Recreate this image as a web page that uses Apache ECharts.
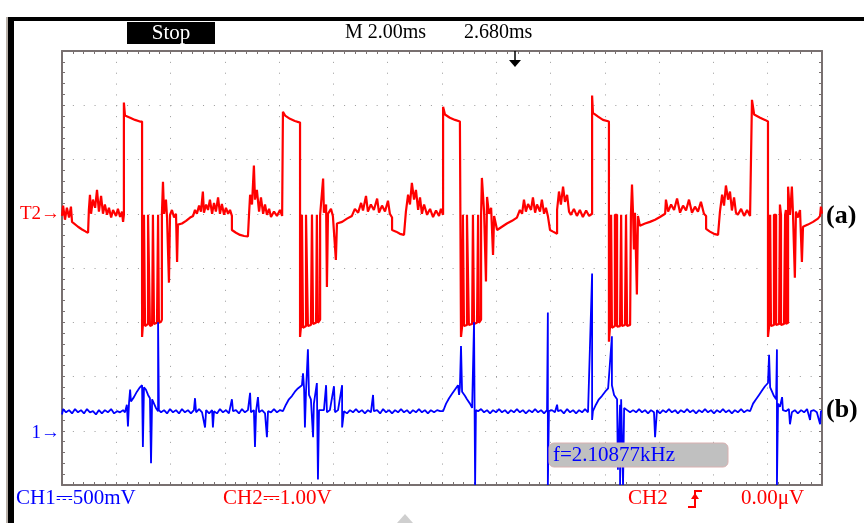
<!DOCTYPE html>
<html><head><meta charset="utf-8">
<script src="https://cdn.jsdelivr.net/npm/echarts@6/dist/echarts.min.js"></script>
<style>html,body{margin:0;padding:0;background:#fff}#c{width:864px;height:523px}</style>
</head><body><div id="c"></div>
<script>
// Time axis: ms (M 2.00ms / div, 14 divisions). Vertical: 8 divisions.
const timeTicks = [0,2,4,6,8,10,12,14,16,18,20,22,24,26,28];
const CH2_SCALE = 1.0;   // V/div
const CH2_OFFSET = 1;    // divisions (T2 marker)
const CH1_SCALE = 0.5;   // V/div
const CH1_OFFSET = -3;   // divisions (1 marker)

// CH2 (red) trace: [ms, V]
const ch2Trace = [
[0,-0.04],[0.04,0.15],[0.11,-0.11],[0.18,0.11],[0.26,-0.07],[0.33,0.13],[0.37,-0.15],[0.44,-0.18],[0.59,-0.24],[0.74,-0.29],[0.88,-0.33],[0.96,-0.35],[0.99,0.07],[1.03,0.35],[1.07,0],[1.14,0.26],[1.22,0.11],[1.29,0.44],[1.36,0.04],[1.44,0.33],[1.51,0],[1.58,0.17],[1.66,-0.02],[1.73,0.11],[1.81,-0.07],[1.88,0.07],[1.99,-0.04],[2.06,0.09],[2.14,-0.06],[2.21,0.04],[2.25,-0.15],[2.28,-0.02],
[2.28,2.05],[2.32,1.81],[2.51,1.77],[2.69,1.73],[2.87,1.70],[2.95,1.70],
[2.95,-2.27],[2.98,-2.05],[3.02,-0.02],[3.06,-0.02],[3.06,-2.07],[3.17,-2.03],[3.17,-0.02],[3.24,-0.02],[3.24,-2.07],[3.32,-2.05],[3.35,-0.02],[3.39,-0.02],[3.39,-2.03],[3.50,-2.01],[3.54,-1.99],[3.54,-0.02],[3.57,-0.02],[3.57,-2.01],[3.65,-1.99],[3.68,-1.95],
[3.68,-0.02],[3.72,0.59],[3.76,0],[3.83,0.26],[3.87,-0.07],[3.94,-1.27],[3.98,-0.02],[4.05,0.07],[4.13,-0.07],[4.20,0],[4.24,-0.89],[4.27,-0.20],[4.42,-0.18],[4.57,-0.13],[4.72,-0.07],[4.83,-0.04],[4.90,0.07],[4.97,0],[5.05,0.15],[5.12,0.04],[5.19,0.41],[5.23,0.02],[5.31,0.17],[5.38,0.07],[5.45,0.26],[5.53,0],[5.60,0.20],[5.67,0.04],[5.75,0.30],[5.82,0],[5.89,0.18],[5.97,-0.02],[6.04,0.11],[6.12,0],[6.19,0.07],[6.26,-0.04],
[6.26,-0.30],[6.41,-0.35],[6.56,-0.39],[6.71,-0.41],[6.85,-0.42],
[6.89,-0.02],[6.93,0.35],[7.00,0.17],[7.07,0.89],[7.11,0.26],[7.18,0.44],[7.26,0.04],[7.33,0.30],[7.41,0],[7.48,0.17],[7.55,-0.02],[7.63,0.09],[7.70,-0.06],[7.81,0.04],[7.92,-0.04],[8.03,0.07],[8.11,-0.04],[8.14,-0.02],
[8.14,1.88],[8.22,1.81],[8.40,1.75],[8.58,1.71],[8.77,1.68],
[8.77,-2.27],[8.81,-2.05],[8.84,-0.02],[8.88,-0.02],[8.88,-2.10],[8.99,-2.07],[8.99,-0.02],[9.06,-0.02],[9.06,-2.07],[9.17,-2.05],[9.21,-0.02],[9.25,-0.02],[9.25,-2.03],[9.36,-2.01],[9.39,-0.02],[9.43,-0.02],[9.43,-2.01],[9.51,-1.95],
[9.51,-0.02],[9.62,0.65],[9.65,0.02],[9.73,0.17],[9.76,-1.35],[9.80,0],[9.91,0.09],[9.98,-0.04],[10.09,-0.85],[10.13,-0.18],[10.32,-0.15],[10.50,-0.09],[10.68,-0.04],[10.79,0.09],[10.91,0.02],[11.02,0.20],[11.09,0.06],[11.20,0.33],[11.27,0.04],[11.38,0.17],[11.49,0.07],[11.61,0.28],[11.68,0.02],[11.79,0.15],[11.90,0.04],[12.01,0.24],[12.08,0],[12.16,-0.07],
[12.16,-0.30],[12.31,-0.33],[12.45,-0.37],[12.60,-0.39],[12.67,-0.41],
[12.67,0.04],[12.75,0.35],[12.82,0.17],[12.89,0.57],[12.97,0.26],[13.04,0.44],[13.12,0.07],[13.19,0.30],[13.26,0],[13.34,0.17],[13.45,-0.02],[13.56,0.09],[13.67,-0.06],[13.78,0.06],[13.89,-0.04],[13.96,0.09],[14.04,-0.02],
[14.04,1.97],[14.11,1.83],[14.29,1.77],[14.48,1.73],[14.66,1.70],[14.70,1.70],
[14.70,-2.27],[14.74,-2.08],[14.77,-0.02],[14.81,-0.02],[14.81,-2.07],[14.92,-2.05],[14.92,-0.02],[14.99,-0.02],[14.99,-2.05],[15.11,-2.03],[15.14,-0.02],[15.18,-0.02],[15.18,-2.03],[15.29,-2.01],[15.33,-0.02],[15.36,-0.02],[15.36,-2.01],[15.44,-1.95],
[15.44,-0.02],[15.47,0.66],[15.55,0.04],[15.62,-1.25],[15.66,0.31],[15.73,0],[15.81,0.11],[15.88,-0.76],[15.92,-0.04],[16.03,-0.30],[16.21,-0.24],[16.39,-0.18],[16.58,-0.13],[16.76,-0.07],[16.87,0.07],[16.95,0],[17.02,0.26],[17.09,0.04],[17.17,0.18],[17.28,0.07],[17.35,0.30],[17.43,0.02],[17.50,0.17],[17.61,0.04],[17.68,0.26],[17.76,0],[17.83,0.11],[17.90,-0.04],
[17.98,-0.30],[18.09,-0.33],[18.24,-0.37],
[18.24,0.07],[18.31,0.41],[18.38,0.17],[18.46,0.50],[18.53,0.22],[18.61,0.35],[18.68,0.04],[18.75,-0.02],[18.86,0.09],[18.97,-0.04],[19.08,0.07],[19.19,-0.06],[19.31,0.06],[19.42,-0.04],[19.53,0],
[19.53,2.18],[19.56,1.86],[19.75,1.79],[19.93,1.73],[20.15,1.70],
[20.15,-2.36],[20.19,-2.08],[20.23,-0.02],[20.26,-0.02],[20.26,-2.10],[20.37,-2.07],[20.37,-0.02],[20.45,-0.02],[20.45,-2.08],[20.56,-2.07],[20.60,-0.02],[20.63,-0.02],[20.63,-2.07],[20.74,-2.05],[20.78,-0.02],[20.82,-0.02],[20.82,-2.07],[20.93,-2.05],[20.96,-0.02],[21.00,-0.02],[21.00,0.54],[21.04,-0.02],
[21.07,-0.66],[21.11,0.02],[21.18,-1.49],[21.22,-0.04],[21.29,-0.22],[21.48,-0.18],[21.66,-0.15],[21.85,-0.11],[22.03,-0.06],[22.22,0],[22.25,0.26],[22.33,0.04],[22.44,0.17],[22.55,0.07],[22.66,0.28],[22.77,0.02],[22.88,0.15],[22.99,0.06],[23.10,0.26],[23.21,0.02],[23.32,0.13],[23.43,0.04],[23.54,0.22],[23.65,0],[23.73,-0.04],
[23.73,-0.28],[23.87,-0.33],[24.02,-0.37],[24.17,-0.39],[24.24,-0.41],
[24.24,0.04],[24.32,0.35],[24.39,0.15],[24.46,0.52],[24.54,0.26],[24.61,0.41],[24.68,0.06],[24.76,0.30],[24.83,0.02],[24.90,-0.02],[25.02,0.09],[25.13,-0.04],[25.24,0.07],[25.35,-0.04],[25.42,-0.02],
[25.42,2.10],[25.50,1.83],[25.72,1.77],[25.90,1.73],[26.01,1.70],
[26.01,-2.27],[26.05,-2.08],[26.09,-0.02],[26.12,-0.02],[26.12,-2.07],[26.23,-2.05],[26.23,-0.02],[26.31,-0.02],[26.31,-2.05],[26.42,-2.03],[26.45,0.17],[26.49,-0.02],[26.49,-2.05],[26.60,-2.03],[26.64,-0.02],[26.67,0.07],[26.67,-2.03],[26.75,-2.01],[26.75,0.50],[26.82,-0.02],
[26.86,0.26],[26.89,0.50],[26.93,0.02],[27.00,-1.18],[27.04,0.04],[27.11,-0.07],[27.19,0.07],[27.26,-0.89],[27.30,-0.24],[27.48,-0.20],[27.67,-0.15],[27.85,-0.09],[27.93,-0.04],[27.96,0.13],[28.00,0]
];

// CH1 (blue) trace: [ms, V]
const ch1Trace = [
[0,0.15],[0.04,0.20],[0.15,0.17],[0.26,0.19],[0.37,0.16],[0.48,0.20],[0.59,0.17],[0.70,0.19],[0.81,0.16],[0.92,0.20],[1.03,0.17],[1.14,0.18],[1.25,0.15],[1.36,0.19],[1.47,0.16],[1.58,0.19],[1.69,0.17],[1.81,0.20],[1.92,0.16],[2.03,0.18],[2.14,0.17],[2.25,0.19],[2.32,0.17],
[2.39,0.24],[2.43,0.04],[2.47,0.26],[2.51,0.38],[2.54,0.27],[2.65,0.31],[2.76,0.36],[2.87,0.40],[2.95,0.42],[2.98,-0.15],[3.02,0.40],[3.09,0.38],[3.17,0.33],[3.24,0.30],[3.28,-0.30],[3.32,0.29],[3.39,0.25],[3.46,0.21],[3.54,0.18],[3.54,1.00],[3.57,0.19],[3.65,0.17],
[3.76,0.19],[3.87,0.16],[3.98,0.20],[4.09,0.17],[4.20,0.19],[4.31,0.16],[4.42,0.20],[4.53,0.17],[4.64,0.19],[4.75,0.16],[4.86,0.19],[4.90,0.30],[4.94,0.17],[5.05,0.20],[5.16,0.17],[5.27,0.03],[5.31,0.19],[5.42,0.16],[5.53,0.19],[5.56,0.03],[5.60,0.18],[5.71,0.16],[5.82,0.20],[5.93,0.17],[6.04,0.19],[6.15,0.16],[6.26,0.29],[6.30,0.18],[6.41,0.19],[6.52,0.16],[6.63,0.20],[6.74,0.17],[6.85,0.19],[6.93,0.35],[6.96,0.17],[7.07,0.19],[7.11,-0.15],[7.15,0.18],[7.22,0.31],[7.26,0.17],[7.37,0.19],[7.48,0.16],[7.55,-0.06],[7.59,0.18],[7.70,0.17],[7.81,0.20],[7.92,0.17],[8.03,0.19],[8.14,0.18],
[8.25,0.24],[8.36,0.29],[8.47,0.32],[8.58,0.36],[8.69,0.39],[8.84,0.42],[8.88,0.53],[8.92,0.38],[8.95,0.03],[8.99,0.36],[9.06,0.75],[9.10,0.33],[9.17,0.29],[9.25,-0.06],[9.28,0.25],[9.39,0.44],[9.43,-0.45],[9.47,0.19],[9.54,0.18],
[9.65,0.19],[9.73,0.42],[9.76,0.17],[9.87,0.19],[10.02,0.41],[10.06,0.17],[10.17,0.19],[10.32,0.42],[10.32,0.03],[10.39,0.18],[10.50,0.16],[10.61,0.19],[10.72,0.17],[10.83,0.20],[10.94,0.17],[11.05,0.19],[11.16,0.16],[11.27,0.19],[11.38,0.17],[11.46,0.33],[11.49,0.18],[11.61,0.19],[11.72,0.16],[11.83,0.20],[11.94,0.17],[12.05,0.19],[12.16,0.16],[12.27,0.19],[12.38,0.17],[12.49,0.20],[12.60,0.17],[12.71,0.19],[12.82,0.16],[12.93,0.19],[13.04,0.17],[13.15,0.20],[13.26,0.17],[13.37,0.19],[13.48,0.16],[13.59,0.19],[13.71,0.17],[13.82,0.19],[13.93,0.18],[14.04,0.18],
[14.15,0.25],[14.26,0.30],[14.37,0.34],[14.48,0.38],[14.59,0.42],[14.63,0.33],[14.66,0.40],[14.70,0.78],[14.74,0.36],[14.85,0.32],[14.92,0.29],[15.03,0.25],[15.11,0.21],[15.18,1.00],[15.22,-0.5],[15.25,0.19],[15.33,0.18],
[15.44,0.20],[15.55,0.17],[15.66,0.19],[15.77,0.16],[15.88,0.19],[15.99,0.17],[16.10,0.20],[16.21,0.17],[16.32,0.19],[16.43,0.16],[16.54,0.19],[16.65,0.17],[16.76,0.20],[16.87,0.17],[16.98,0.19],[17.09,0.16],[17.21,0.19],[17.32,0.17],[17.43,0.20],[17.54,0.17],[17.65,0.19],[17.76,0.16],[17.87,0.19],[17.90,1.09],[17.90,-0.5],[17.94,0.18],[18.05,0.19],[18.16,0.17],[18.24,0.24],[18.27,0.18],[18.38,0.19],[18.49,0.16],[18.61,0.20],[18.72,0.17],[18.83,0.19],[18.94,0.16],[19.05,0.19],[19.16,0.17],[19.27,0.20],[19.38,0.17],[19.53,1.45],[19.53,0.10],[19.56,0.18],
[19.67,0.24],[19.78,0.29],[19.89,0.32],[20.01,0.36],[20.12,0.39],[20.26,0.87],[20.26,0.42],[20.34,0.33],[20.45,0.29],[20.48,-0.36],[20.56,0.24],[20.56,-0.5],[20.60,0.29],[20.67,-0.5],[20.71,0.21],[20.82,0.19],[20.93,0.17],
[21.04,0.19],[21.15,0.17],[21.26,0.20],[21.37,0.17],[21.48,0.19],[21.59,0.16],[21.70,0.19],[21.81,0.17],[21.85,-0.06],[21.92,0.19],[22.03,0.16],[22.14,0.19],[22.25,0.17],[22.36,0.20],[22.47,0.17],[22.59,0.19],[22.69,0.16],[22.80,0.19],[22.92,0.17],[23.03,0.20],[23.14,0.17],[23.25,0.19],[23.36,0.16],[23.47,0.19],[23.58,0.17],[23.69,0.20],[23.80,0.17],[23.91,0.19],[24.02,0.16],[24.13,0.19],[24.24,0.17],[24.35,0.20],[24.46,0.17],[24.57,0.19],[24.68,0.16],[24.79,0.19],[24.90,0.17],[25.02,0.20],[25.13,0.17],[25.24,0.19],[25.35,0.18],
[25.46,0.25],[25.57,0.29],[25.68,0.33],[25.79,0.37],[25.90,0.41],[26.01,0.44],[26.05,0.70],[26.09,0.40],[26.16,0.36],[26.23,0.32],[26.31,0.29],[26.34,0.75],[26.34,-0.5],[26.38,0.25],[26.45,0.22],[26.53,0.31],[26.56,0.19],[26.67,0.18],[26.78,0.20],[26.82,0.06],[26.89,0.17],[27.00,0.19],[27.11,0.16],[27.23,0.19],[27.34,0.17],[27.45,0.20],[27.56,0.10],[27.59,0.18],[27.70,0.19],[27.81,0.17],[27.93,0.06],[27.96,0.18],[28.00,0.18]
];

const statusText = 'Stop';
const timebaseText = 'M 2.00ms';
const delayText = '2.680ms';
const ch1Label = 'CH1\u2393500mV';
const ch2Label = 'CH2\u23931.00V';
const trigSource = 'CH2';
const trigLevel = '0.00\u03BCV';
const freqText = 'f=2.10877kHz';
const ch2Marker = 'T2\u2192';
const ch1Marker = '1\u2192';

const RED = '#ff0000', BLUE = '#0000ff', BORDER = '#787070';
const SERIF = '"Liberation Serif", "DejaVu Serif", serif';

const chart = echarts.init(document.getElementById('c'), null, {renderer:'canvas'});

function axisX(pos, grid) {
  return {type:'value', position:pos, min:0, max:28, interval:2,
    axisLine:{show:true, onZero:false, lineStyle:{color:BORDER, width:2}},
    axisTick:{show:true, inside:true, length:3, lineStyle:{color:BORDER}},
    minorTick:{show:true, splitNumber:5, length:3, lineStyle:{color:BORDER}},
    axisLabel:{show:false},
    splitLine:{show:grid, lineStyle:{color:'#9a9a9a', width:1, type:[1,9.857]}}};
}
function axisY(pos, grid) {
  return {type:'value', position:pos, min:-4, max:4, interval:1,
    axisLine:{show:true, onZero:false, lineStyle:{color:BORDER, width:2}},
    axisTick:{show:true, inside:true, length:3, lineStyle:{color:BORDER}},
    minorTick:{show:true, splitNumber:5, length:3, lineStyle:{color:BORDER}},
    axisLabel:{show:false},
    splitLine:{show:grid, lineStyle:{color:'#9a9a9a', width:1, type:[1,9.85]}}};
}

const ch2Data = ch2Trace.map(p => [p[0], p[1] / CH2_SCALE + CH2_OFFSET]);
const ch1Data = ch1Trace.map(p => [p[0], p[1] / CH1_SCALE + CH1_OFFSET]);

const staticGraphics = [
    {type:'rect', shape:{x:6, y:17, width:2, height:506}, style:{fill:'#b8b0a8'}, silent:true},
    {type:'rect', shape:{x:8, y:17, width:6, height:506}, style:{fill:'#000'}, silent:true},
    {type:'rect', shape:{x:8, y:17, width:856, height:4}, style:{fill:'#000'}, silent:true},
    {type:'rect', shape:{x:127, y:22, width:88, height:22}, style:{fill:'#000'}, silent:true},
    {type:'text', x:171, y:33, style:{text:statusText, fill:'#fff', font:'21px '+SERIF, textAlign:'center', textVerticalAlign:'middle'}},
    {type:'text', x:345, y:33, style:{text:timebaseText, fill:'#000', font:'20px '+SERIF, textAlign:'left', textVerticalAlign:'middle'}},
    {type:'text', x:464, y:33, style:{text:delayText, fill:'#000', font:'20px '+SERIF, textAlign:'left', textVerticalAlign:'middle'}},
    {type:'line', shape:{x1:515, y1:51, x2:515, y2:62}, style:{stroke:'#000', lineWidth:1.5}, z:10},
    {type:'polygon', shape:{points:[[509,60],[521,60],[515,67]]}, style:{fill:'#000'}, z:10},
    {type:'text', x:826, y:216, style:{text:'(a)', fill:'#000', font:'bold 26px '+SERIF, textAlign:'left', textVerticalAlign:'middle'}},
    {type:'text', x:826, y:410, style:{text:'(b)', fill:'#000', font:'bold 26px '+SERIF, textAlign:'left', textVerticalAlign:'middle'}},
    {type:'rect', shape:{x:549, y:443, width:179, height:24, r:5}, style:{fill:'#c0c0c0', stroke:'#d9b0b0', lineWidth:1}, z:20},
    {type:'text', x:553, y:455, style:{text:freqText, fill:BLUE, font:'21px '+SERIF, textAlign:'left', textVerticalAlign:'middle'}, z:21},
    {type:'text', x:16, y:498, style:{text:ch1Label, fill:BLUE, font:'21px '+SERIF, textAlign:'left', textVerticalAlign:'middle'}},
    {type:'text', x:223, y:498, style:{text:ch2Label, fill:RED, font:'21px '+SERIF, textAlign:'left', textVerticalAlign:'middle'}},
    {type:'text', x:628, y:498, style:{text:trigSource, fill:RED, font:'21px '+SERIF, textAlign:'left', textVerticalAlign:'middle'}},
    {type:'polyline', shape:{points:[[688,507],[695,507],[695,491],[702,491]]}, style:{stroke:RED, lineWidth:2, fill:null}},
    {type:'polygon', shape:{points:[[691,499],[699,499],[695,493]]}, style:{fill:RED}},
    {type:'text', x:741, y:498, style:{text:trigLevel, fill:RED, font:'21px '+SERIF, textAlign:'left', textVerticalAlign:'middle'}},
    {type:'polygon', shape:{points:[[397,523],[405,514],[413,523]]}, style:{fill:'#cfcfcf'}}
];

chart.setOption({
  animation:false,
  backgroundColor:'#ffffff',
  grid:{left:62, right:42, top:51, bottom:38, containLabel:false},
  xAxis:[axisX('bottom', true), axisX('top', false)],
  yAxis:[axisY('left', true), axisY('right', false)],
  series:[
    {type:'line', name:'CH2', data:ch2Data, showSymbol:false, clip:true, z:3,
     lineStyle:{color:RED, width:2.2}, itemStyle:{color:RED}},
    {type:'line', name:'CH1', data:ch1Data, showSymbol:false, clip:true, z:4,
     lineStyle:{color:BLUE, width:1.8}, itemStyle:{color:BLUE}}
  ],
  graphic: staticGraphics
});

// Channel ground markers placed through the chart's own scale
const p2 = chart.convertToPixel({gridIndex:0}, [0, CH2_OFFSET]);
const p1 = chart.convertToPixel({gridIndex:0}, [0, CH1_OFFSET]);
chart.setOption({graphic: staticGraphics.concat([
  {type:'text', x:p2[0]-2, y:p2[1], style:{text:ch2Marker, fill:RED, font:'19px '+SERIF, textAlign:'right', textVerticalAlign:'middle'}},
  {type:'text', x:p1[0]-2, y:p1[1]+2, style:{text:ch1Marker, fill:BLUE, font:'19px '+SERIF, textAlign:'right', textVerticalAlign:'middle'}}
])});
</script></body></html>
